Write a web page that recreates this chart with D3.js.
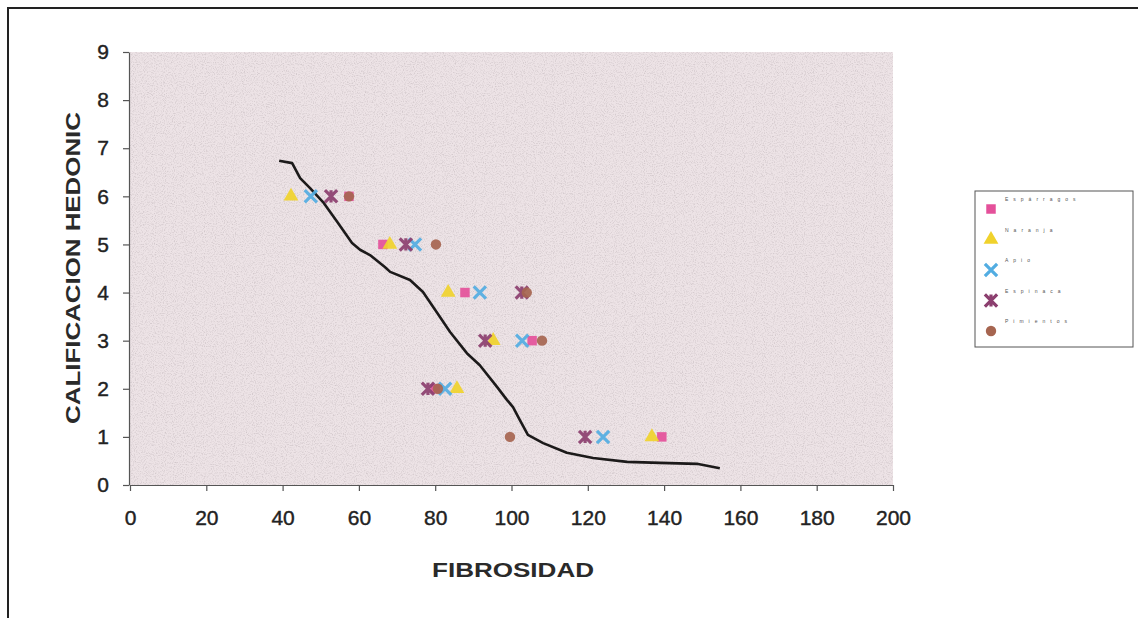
<!DOCTYPE html>
<html>
<head>
<meta charset="utf-8">
<script src="https://cdn.jsdelivr.net/npm/d3@7"></script>
<style>
	body { margin: 0; background: #fff; }
	svg { display: block; font-family: "Liberation Sans", Arial, sans-serif; }
</style>
</head>
<body>
<svg id="chart" width="1138" height="618"></svg>
<script>
// hedonic rating levels (y) and the fibrosity read for each series
var calificacion = [1, 2, 3, 4, 5, 6];
var serieNames = ["Espárragos", "Naranja", "Apio", "Espinaca", "Pimientos"];
var serieCuadro = [139.4, 80, 105.4, 87.8, 66.3, 57.4];
var serieTriangulo = [136.8, 85.7, 95.2, 83.4, 68.1, 42.2];
var serieEquis = [124, 82.6, 102.8, 91.7, 74.7, 47.4];
var serieEstrella = [119.3, 78.1, 93.1, 102.7, 72.3, 52.7];
var serieCirculo = [99.6, 80.7, 108, 104, 80.2, 57.4];

// fitted curve
var curvaX = [39.1, 42.5, 44.6, 47.2, 50.6, 54.3, 58.2, 60.3, 62.9, 66.8, 68.2, 73.4, 76.8, 80.5, 83.9, 88.3, 91.7, 96.2, 98.8, 100.4, 102.2, 104.3, 108.3, 114.5, 121.4, 130.3, 138.9, 148.6, 154.6];
var curvaY = [6.74, 6.69, 6.38, 6.17, 5.88, 5.47, 5.03, 4.89, 4.78, 4.53, 4.43, 4.26, 4.01, 3.58, 3.18, 2.74, 2.49, 2.04, 1.77, 1.62, 1.35, 1.04, 0.87, 0.67, 0.56, 0.48, 0.46, 0.44, 0.35];

var xTicks = [0, 20, 40, 60, 80, 100, 120, 140, 160, 180, 200];
var yTicks = [0, 1, 2, 3, 4, 5, 6, 7, 8, 9];

var svg = d3.select("#chart");

var x = d3.scaleLinear().domain([0, 200]).range([130, 893]);
var y = d3.scaleLinear().domain([0, 9]).range([485, 52]);

// paper grain
var defs = svg.append("defs");
var f = defs.append("filter").attr("id", "grain").attr("x", 0).attr("y", 0).attr("width", 1).attr("height", 1);
f.append("feTurbulence").attr("type", "fractalNoise").attr("baseFrequency", 0.9).attr("numOctaves", 2).attr("seed", 3);
f.append("feColorMatrix").attr("type", "matrix")
	.attr("values", "0 0 0 0 0.35  0 0 0 0 0.3  0 0 0 0 0.32  0 0 0 -2.4 1.3");
f.append("feComposite").attr("in2", "SourceGraphic").attr("operator", "in");

// outer frame
svg.append("path")
	.attr("d", "M8,620 L8,8 L1140,8")
	.attr("fill", "none")
	.attr("stroke", "#222")
	.attr("stroke-width", 2);

// plot area
svg.append("rect")
	.attr("x", x(0)).attr("y", y(9))
	.attr("width", x(200) - x(0)).attr("height", y(0) - y(9))
	.attr("fill", "#ede3e6");
svg.append("rect")
	.attr("x", x(0)).attr("y", y(9))
	.attr("width", x(200) - x(0)).attr("height", y(0) - y(9))
	.attr("fill", "#000")
	.attr("filter", "url(#grain)")
	.attr("opacity", 0.35);

// axes
var yAxis = svg.append("g")
	.attr("transform", "translate(" + (x(0) - 1) + ",0)")
	.call(d3.axisLeft(y).tickValues(yTicks).tickSize(6).tickPadding(14).tickSizeOuter(0));
var xAxis = svg.append("g")
	.attr("transform", "translate(0," + y(0) + ")")
	.call(d3.axisBottom(x).tickValues(xTicks).tickSize(6).tickPadding(19).tickSizeOuter(0));

[xAxis, yAxis].forEach(function(a) {
	a.selectAll("path, line").attr("stroke", "#555").attr("stroke-width", 1.2);
	a.selectAll("text")
		.attr("fill", "#222")
		.attr("stroke", "#222")
		.attr("stroke-width", 0.4)
		.style("font-size", "21px");
});

// axis titles
svg.append("text")
	.attr("transform", "translate(80,268) rotate(-90)")
	.attr("text-anchor", "middle")
	.attr("textLength", 312)
	.attr("lengthAdjust", "spacingAndGlyphs")
	.style("font-size", "20px")
	.style("font-weight", "bold")
	.attr("fill", "#2a2a2a")
	.text("CALIFICACION HEDONIC");

svg.append("text")
	.attr("x", 513).attr("y", 577)
	.attr("text-anchor", "middle")
	.attr("textLength", 162)
	.attr("lengthAdjust", "spacingAndGlyphs")
	.style("font-size", "20px")
	.style("font-weight", "bold")
	.attr("fill", "#2a2a2a")
	.text("FIBROSIDAD");

// curve
var linea = d3.line()
	.x(function(d) { return x(d[0]); })
	.y(function(d) { return y(d[1]); });

svg.append("path")
	.datum(d3.zip(curvaX, curvaY))
	.attr("d", linea)
	.attr("fill", "none")
	.attr("stroke", "#1c1a1a")
	.attr("stroke-width", 2.6)
	.attr("stroke-linejoin", "round");

// marker shapes
var equis = { draw: function(ctx, size) {
	var r = Math.sqrt(size) / 2;
	ctx.moveTo(-r, -r); ctx.lineTo(r, r);
	ctx.moveTo(r, -r); ctx.lineTo(-r, r);
} };
var estrella = { draw: function(ctx, size) {
	var r = Math.sqrt(size) / 2;
	ctx.moveTo(-r, -r); ctx.lineTo(r, r);
	ctx.moveTo(r, -r); ctx.lineTo(-r, r);
	ctx.moveTo(0, -r); ctx.lineTo(0, r);
} };

var series = [
	{ name: serieNames[0], values: serieCuadro, type: d3.symbolSquare, size: 90, color: "#e4509a", stroke: false },
	{ name: serieNames[1], values: serieTriangulo, type: d3.symbolTriangle, size: 95, color: "#f0d22c", stroke: false },
	{ name: serieNames[2], values: serieEquis, type: equis, size: 150, color: "#52ade2", stroke: true },
	{ name: serieNames[3], values: serieEstrella, type: estrella, size: 150, color: "#8c3f6f", stroke: true },
	{ name: serieNames[4], values: serieCirculo, type: d3.symbolCircle, size: 85, color: "#a66550", stroke: false }
];

function styleMark(sel, s) {
	if (s.stroke) {
		sel.attr("fill", "none").attr("stroke", s.color).attr("stroke-width", 3.2);
	} else {
		sel.attr("fill", s.color).attr("stroke", "none");
	}
}

series.forEach(function(s) {
	var marks = svg.append("g").selectAll("path")
		.data(d3.zip(s.values, calificacion))
		.enter().append("path")
		.attr("transform", function(d) { return "translate(" + x(d[0]) + "," + y(d[1]) + ")"; })
		.attr("d", d3.symbol().type(s.type).size(s.size))
		.attr("opacity", 0.92);
	styleMark(marks, s);
});

// legend
var legend = svg.append("g").attr("transform", "translate(975,191)");
legend.append("rect")
	.attr("width", 158).attr("height", 156)
	.attr("fill", "#fff")
	.attr("stroke", "#555")
	.attr("stroke-width", 1);

var item = legend.selectAll("g.item")
	.data(series)
	.enter().append("g")
	.attr("class", "item")
	.attr("transform", function(d, i) { return "translate(0," + (18 + i * 30.5) + ")"; });

item.append("path")
	.attr("transform", "translate(16,0)")
	.attr("d", function(d) { return d3.symbol().type(d.type).size(d.size)(); })
	.each(function(d) { styleMark(d3.select(this), d); });

item.append("text")
	.attr("x", 30).attr("y", -8)
	.style("font-size", "5px")
	.style("letter-spacing", "5px")
	.attr("fill", "#555")
	.text(function(d) { return d.name; });
</script>
</body>
</html>
